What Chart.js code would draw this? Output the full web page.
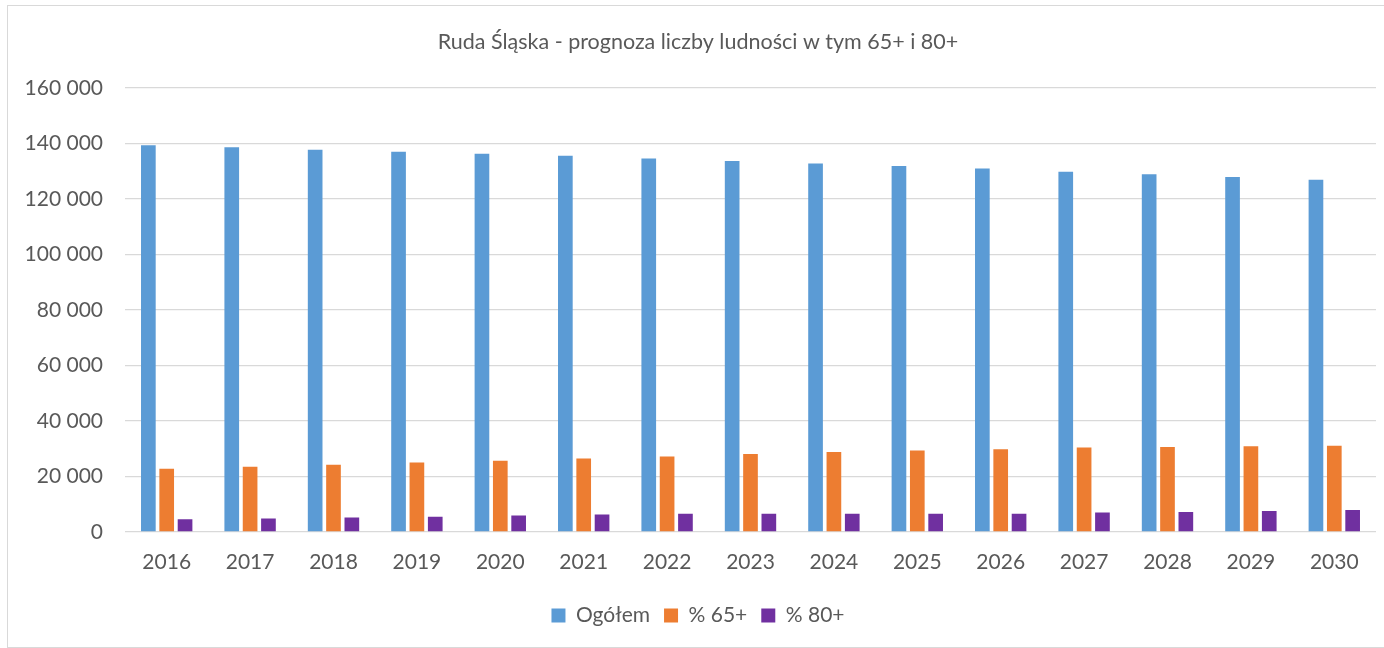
<!DOCTYPE html>
<html>
<head>
<meta charset="utf-8">
<script src="https://cdn.jsdelivr.net/npm/chart.js@4.4.1/dist/chart.umd.min.js"></script>
<style>
    html, body { margin: 0; padding: 0; background: #fff; }
    #wrap { position: relative; width: 1384px; height: 648px; }
    #frame {
        position: absolute; left: 7px; top: 5px; width: 1376px; height: 641px;
        border: 1px solid #d9d9d9; pointer-events: none;
    }
</style>
</head>
<body>
<div id="wrap">
    <canvas id="chart" width="1384" height="648"></canvas>
    <div id="frame"></div>
</div>
<script>
const years = ['2016', '2017', '2018', '2019', '2020', '2021', '2022', '2023',
    '2024', '2025', '2026', '2027', '2028', '2029', '2030'];

const ogolem = [139300, 138600, 137700, 137000, 136200, 135500, 134500, 133600,
    132700, 131800, 130900, 129800, 128900, 127900, 126900];
const pct65 = [22800, 23500, 24200, 25000, 25700, 26500, 27200, 28100,
    28800, 29400, 29800, 30400, 30600, 30900, 31100];
const pct80 = [4600, 4900, 5200, 5500, 5900, 6300, 6600, 6600,
    6600, 6600, 6600, 7000, 7200, 7600, 7900];

const seriesNames = ['Ogółem', '% 65+', '% 80+'];
const colors = ['#5B9BD5', '#ED7D31', '#7030A0'];

const fontFamily = 'Lato, "Open Sans", sans-serif';
const textColor = '#595959';

function formatThousands(v) {
    return String(v).replace(/\B(?=(\d{3})+(?!\d))/g, ' ');
}

const chartData = {
    labels: years,
    datasets: [ogolem, pct65, pct80].map((values, i) => ({
        label: seriesNames[i],
        data: values,
        backgroundColor: colors[i],
        barPercentage: 0.8,
        categoryPercentage: 0.66
    }))
};

const config = {
    type: 'bar',
    data: chartData,
    options: {
        responsive: false,
        animation: false,
        layout: {
            padding: { left: 20, right: 8, top: 0, bottom: 12 }
        },
        plugins: {
            title: {
                display: true,
                text: 'Ruda Śląska - prognoza liczby ludności w tym 65+ i 80+',
                color: textColor,
                font: { family: fontFamily, size: 21.5, weight: 'normal' },
                padding: { top: 29, bottom: 33 }
            },
            legend: {
                position: 'bottom',
                labels: {
                    color: textColor,
                    font: { family: fontFamily, size: 21 },
                    boxWidth: 14,
                    boxHeight: 14,
                    padding: 14
                }
            },
            tooltip: { enabled: false }
        },
        scales: {
            x: {
                grid: { display: false, drawTicks: false },
                border: { display: false },
                afterFit: function (scale) { scale.height = 59; },
                ticks: {
                    color: textColor,
                    font: { family: fontFamily, size: 21 },
                    padding: 18,
                    maxRotation: 0
                }
            },
            y: {
                min: 0,
                max: 160000,
                grid: { color: '#d9d9d9', lineWidth: 1.3, drawTicks: false },
                border: { display: false },
                afterFit: function (scale) { scale.width = 105; },
                ticks: {
                    stepSize: 20000,
                    color: textColor,
                    font: { family: fontFamily, size: 21 },
                    padding: 22,
                    callback: v => formatThousands(v)
                }
            }
        }
    }
};

const ctx = document.getElementById('chart').getContext('2d');
const chart = new Chart(ctx, config);
</script>
</body>
</html>
